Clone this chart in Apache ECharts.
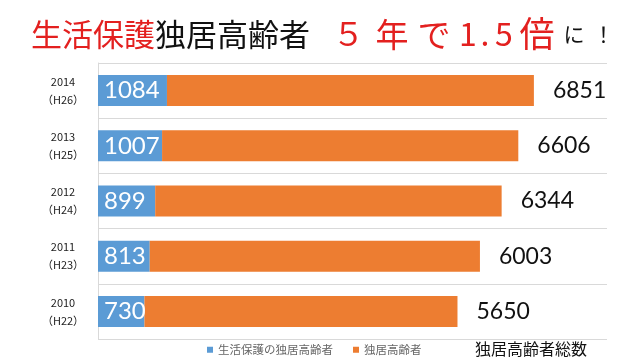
<!DOCTYPE html>
<html><head><meta charset="utf-8">
<script src="https://cdn.jsdelivr.net/npm/echarts@6/dist/echarts.min.js"></script>
<style>html,body{margin:0;padding:0;background:#fff}#c{width:638px;height:359px}</style>
</head><body><div id="c"></div>
<script>
const years = ['2010','2011','2012','2013','2014'];
const heisei = ['H22','H23','H24','H25','H26'];
const welfareElderly = [730, 813, 899, 1007, 1084];
const totalElderly = [5650, 6003, 6344, 6606, 6851];
const seriesNames = ['生活保護の独居高齢者','独居高齢者'];
const totalCaption = '独居高齢者総数';

const otherElderly = totalElderly.map((t,i)=>t - welfareElderly[i]);
const chart = echarts.init(document.getElementById('c'));
const cjkName = '"Noto Sans CJK JP"';
const cjk = '"Noto Sans CJK JP", sans-serif';
const RED = '#e3201f', BLK = '#111';
function t(x, text, size, color, align){
  return {type:'text', x:x, y:34,
    style:{text:text, font: size + 'px ' + cjkName, fill:color,
      textAlign: align || 'center', textVerticalAlign:'middle'}};
}
chart.setOption({
  animation:false,
  legend:{
    left:207, top:344, padding:0, itemWidth:6, itemHeight:6, itemGap:20,
    icon:'rect',
    textStyle:{fontFamily:cjk, fontSize:11.5, color:'#666'},
    data:seriesNames
  },
  graphic:[
    {type:'text', x:31, y:34, style:{
      text:'{r|生活保護}{b|独居高齢者}', textVerticalAlign:'middle',
      rich:{r:{fontFamily:cjk, fontSize:31, fill:RED, fontWeight:'normal'},
            b:{fontFamily:cjk, fontSize:31, fill:BLK, fontWeight:'normal'}}}},
    t(348.5,'５',32,RED), t(392,'年',33,RED), t(434,'で',33,RED),
    t(468,'1',32,RED), t(485,'.',32,RED), t(504,'5',32,RED),
    t(537,'倍',35,RED), t(574,'に',21,BLK), t(603.5,'！',21,BLK),
    {type:'text', left:475, top:341,
     style:{text:totalCaption, font:'16px ' + cjkName, fill:BLK}}
  ],
  grid:{left:98, right:31, top:63, bottom:20},
  xAxis:{type:'value', min:0, max:8000, show:false},
  yAxis:{
    type:'category', data:years,
    axisLine:{show:true, lineStyle:{color:'#d9d9d9'}},
    axisTick:{show:false},
    splitLine:{show:true, lineStyle:{color:'#d9d9d9'}},
    axisLabel:{
      margin:35, align:'center', fontSize:11, lineHeight:18, color:'#222',
      fontFamily:cjk,
      formatter:(v,i)=> v + '\n（' + heisei[i] + '）'
    }
  },
  series:[
    {name:seriesNames[0], type:'bar', stack:'a', data:welfareElderly, barWidth:31,
     itemStyle:{color:'#5b9bd5'},
     label:{show:true, position:'insideLeft', distance:6, color:'#fff', fontSize:24, fontFamily:'Lato'}},
    {name:seriesNames[1], type:'bar', stack:'a', data:otherElderly, barWidth:31,
     itemStyle:{color:'#ed7d31'},
     label:{show:true, position:'right', distance:19, color:'#111', fontSize:23, fontFamily:'Lato',
       formatter:p=> String(totalElderly[p.dataIndex])}}
  ]
});
</script></body></html>
